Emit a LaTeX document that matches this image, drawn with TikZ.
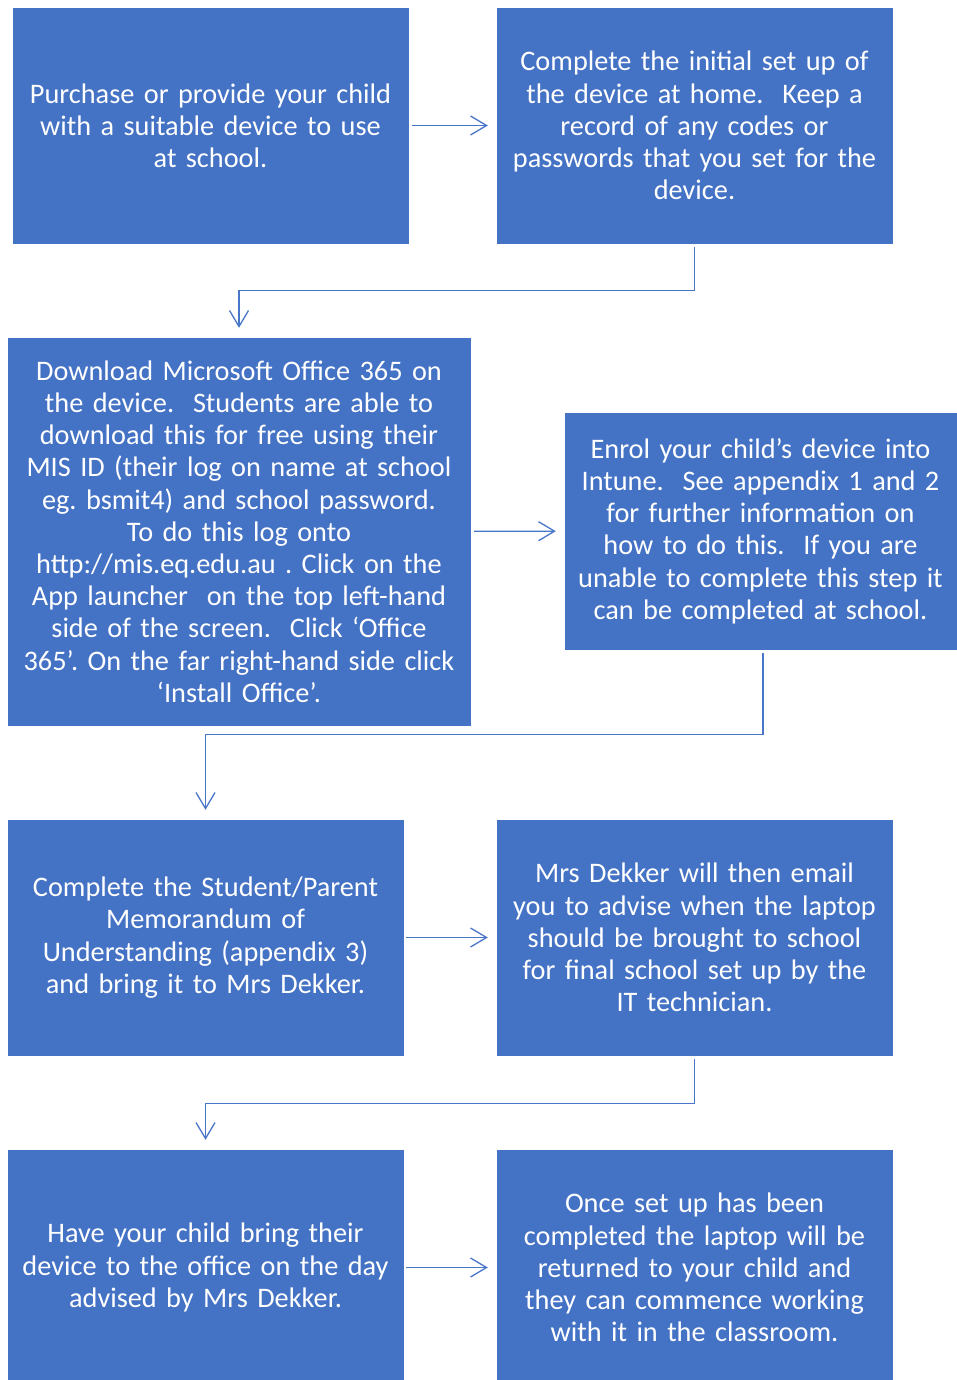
\documentclass[tikz,border=0pt]{standalone}
\usepackage{fontspec}
\setmainfont{Carlito}
\frenchspacing
\definecolor{boxblue}{RGB}{68,114,196}
\definecolor{lineblue}{RGB}{72,118,200}
\usetikzlibrary{arrows.meta,positioning}

\begin{document}
\begin{tikzpicture}[x=1pt,y=-1pt,
      card/.style={fill=boxblue,draw=boxblue,minimum width=395pt,minimum height=235pt,
                   text width=385pt,align=center,text=white,inner sep=0pt,
                   font=\fontsize{28.3}{32.2}\selectfont},
      arr/.style={-{Straight Barb[length=16pt,width=19pt]},color=lineblue,line width=1.3pt}
    ]
      \useasboundingbox (0,0) rectangle (956,1380);
      % Row 1
      \node[card] (buy) at (210.5,125.5) {Purchase or provide your child\\with a suitable device to use\\at school.};
      \node[card] (setup) at (694.5,125.5) {Complete the initial set up of\\the device at home.\ \ Keep a\\record of any codes or\\passwords that you set for the\\device.};
      \draw[arr,shorten <=4pt,shorten >=9pt] (buy) -- (setup);
      % Row 2
      \node[card,minimum width=462pt,minimum height=387pt,text width=455pt] (office) at (239,531.5)
        {Download Microsoft Office 365 on\\the device.\ \ Students are able to\\download this for free using their\\MIS ID (their log on name at school\\eg. bsmit4) and school password.\\To do this log onto\\http://mis.eq.edu.au . Click on the\\App launcher\ \ on the top left-hand\\side of the screen.\ \ Click ‘Office\\365’. On the far right-hand side click\\‘Install Office’.};
      \node[card,minimum width=391pt,minimum height=236pt,text width=385pt] (intune) at (760.5,531)
        {Enrol your child’s device into\\Intune.\ \ See appendix 1 and 2\\for further information on\\how to do this.\ \ If you are\\unable to complete this step it\\can be completed at school.};
      \draw[arr,shorten <=4pt,shorten >=9pt] (office) -- (intune);
      \draw[arr,shorten <=4pt,shorten >=10pt] (setup.south) -- ++(0,47) -| (office.north);
      % Row 3
      \node[card] (mou) at (205.5,937.5) {Complete the Student/Parent\\Memorandum of\\Understanding (appendix 3)\\and bring it to Mrs Dekker.};
      \node[card] (email) at (694.5,937.5) {Mrs Dekker will then email\\you to advise when the laptop\\should be brought to school\\for final school set up by the\\IT technician.};
      \draw[arr,shorten <=3pt,shorten >=9pt] (mou) -- (email);
      \draw[arr,shorten <=4pt,shorten >=10pt] ([xshift=2.5pt]intune.south) -- ++(0,85) -| (mou.north);
      % Row 4
      \node[card] (bring) at (205.5,1267.5) {Have your child bring their\\device to the office on the day\\advised by Mrs Dekker.};
      \node[card] (ret) at (694.5,1267.5) {Once set up has been\\completed the laptop will be\\returned to your child and\\they can commence working\\with it in the classroom.};
      \draw[arr,shorten <=3pt,shorten >=9pt] (bring) -- (ret);
      \draw[arr,shorten <=4pt,shorten >=10pt] (email.south) -- ++(0,48) -| (bring.north);
    \end{tikzpicture}
\end{document}
